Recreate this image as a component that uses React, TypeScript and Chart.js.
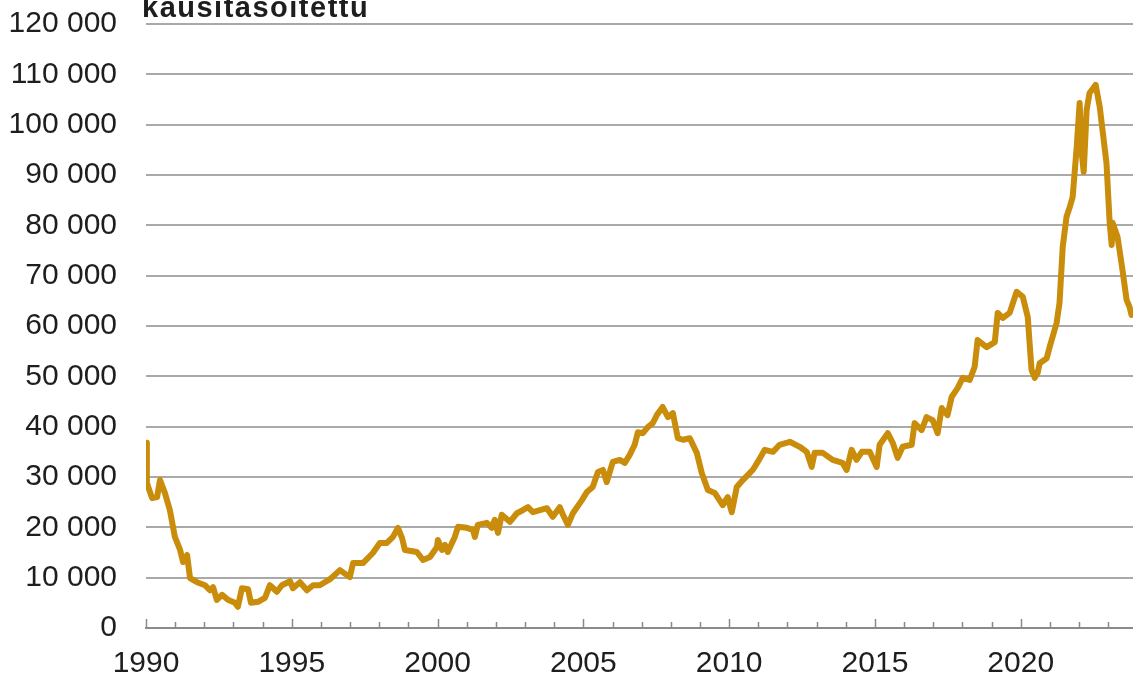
import React, { useEffect, useRef } from "react";
import { Chart, registerables } from "chart.js";

Chart.register(...registerables);

const TITLE = "kausitasoitettu";

const years = [
  1990.0, 1990.03, 1990.21, 1990.38, 1990.48, 1990.65, 1990.82, 1990.99, 1991.17, 1991.27,
  1991.41, 1991.51, 1991.75, 1992.02, 1992.19, 1992.3, 1992.43, 1992.61, 1992.81, 1993.05,
  1993.15, 1993.29, 1993.5, 1993.6, 1993.84, 1994.08, 1994.25, 1994.49, 1994.66, 1994.94,
  1995.04, 1995.28, 1995.52, 1995.73, 1995.96, 1996.31, 1996.65, 1996.99, 1997.1, 1997.44,
  1997.78, 1998.02, 1998.26, 1998.47, 1998.64, 1998.78, 1998.88, 1999.29, 1999.5, 1999.74,
  1999.98, 2000.01, 2000.15, 2000.25, 2000.35, 2000.59, 2000.7, 2001.0, 2001.21, 2001.28,
  2001.38, 2001.69, 2001.86, 2001.96, 2002.07, 2002.2, 2002.48, 2002.72, 2002.92, 2003.1,
  2003.27, 2003.75, 2003.95, 2004.19, 2004.3, 2004.47, 2004.64, 2004.95, 2005.12, 2005.32,
  2005.5, 2005.67, 2005.8, 2006.01, 2006.25, 2006.42, 2006.59, 2006.76, 2006.87, 2007.04,
  2007.21, 2007.38, 2007.52, 2007.72, 2007.9, 2008.07, 2008.24, 2008.41, 2008.65, 2008.89,
  2009.06, 2009.27, 2009.51, 2009.78, 2009.95, 2010.09, 2010.26, 2010.47, 2010.81, 2010.98,
  2011.22, 2011.5, 2011.73, 2012.08, 2012.42, 2012.66, 2012.83, 2012.93, 2013.21, 2013.55,
  2013.89, 2014.03, 2014.2, 2014.37, 2014.55, 2014.82, 2015.06, 2015.16, 2015.44, 2015.61,
  2015.78, 2015.95, 2016.26, 2016.36, 2016.6, 2016.77, 2016.98, 2017.15, 2017.29, 2017.49,
  2017.63, 2017.84, 2018.01, 2018.25, 2018.42, 2018.52, 2018.83, 2019.11, 2019.21, 2019.38,
  2019.62, 2019.86, 2020.07, 2020.24, 2020.37, 2020.48, 2020.58, 2020.65, 2020.89, 2020.99,
  2021.23, 2021.33, 2021.44, 2021.57, 2021.68, 2021.78, 2021.92, 2022.02, 2022.09, 2022.16,
  2022.26, 2022.36, 2022.57, 2022.71, 2022.94, 2023.05, 2023.12, 2023.15, 2023.32, 2023.49,
  2023.63, 2023.73, 2023.8,
];

const values = [
  36800, 28800, 25800, 26000, 29400, 26800, 23400, 18100, 15500, 13100,
  14500, 9900, 9100, 8500, 7500, 8100, 5600, 6600, 5600, 5000,
  4200, 7900, 7700, 5000, 5200, 6000, 8500, 7200, 8500, 9300,
  7900, 9100, 7500, 8500, 8500, 9700, 11500, 10100, 12900, 12900,
  14900, 16900, 16900, 18100, 19900, 17900, 15500, 15100, 13500, 14100,
  16100, 17500, 15500, 16500, 15100, 18100, 20100, 19900, 19500, 18100,
  20500, 20900, 19900, 21500, 18900, 22500, 21100, 22800, 23400, 24000,
  23000, 23800, 22100, 24000, 22500, 20500, 22800, 25400, 27000, 28000,
  31000, 31400, 29000, 33000, 33400, 32800, 34400, 36400, 38900, 38700,
  39900, 40700, 42300, 43900, 41900, 42700, 37700, 37400, 37700, 34800,
  30800, 27400, 26800, 24400, 26000, 23000, 28000, 29400, 31400, 33000,
  35400, 35000, 36400, 37000, 36000, 35000, 32000, 34800, 34800, 33400,
  32800, 31400, 35400, 33400, 35000, 35000, 32000, 36400, 38700, 36800,
  33800, 36000, 36400, 40700, 39300, 41900, 41300, 38700, 43700, 42300,
  45900, 47700, 49700, 49300, 51900, 57200, 55800, 56800, 62600, 61600,
  62600, 66800, 65800, 61800, 51300, 49700, 50700, 52600, 53600, 55800,
  60600, 64600, 75700, 81700, 83600, 85600, 95600, 104300, 94400, 90600,
  102900, 106300, 107900, 103500, 92400, 80500, 76100, 80500, 77700, 71100,
  65200, 63800, 62200,
];

const X_MIN = 1990;
const X_MAX = 2023.85;
const Y_MIN = 0;
const Y_MAX = 120000;
const Y_STEP = 10000;
const LABEL_EVERY = 5;

const FONT = "'Liberation Sans', Arial, sans-serif";
const TEXT_COLOR = "#1e1e1e";

const fmt = (v: number) => String(v).replace(/\B(?=(\d{3})+(?!\d))/g, " ");

export default function App() {
  const ref = useRef<HTMLCanvasElement | null>(null);

  useEffect(() => {
    if (!ref.current) return;

    const extras = {
      id: "extras",
      afterDraw(chart: any) {
        const { ctx, chartArea, scales } = chart;
        const xs = scales.x;
        ctx.save();
        ctx.strokeStyle = "#8a8a8a";
        ctx.lineWidth = 1.5;
        ctx.beginPath();
        xs.ticks.forEach((t: any) => {
          const v = t.value;
          if (Math.abs(v - Math.round(v)) > 1e-6) return;
          const px = Math.round(xs.getPixelForValue(v)) + 0.5;
          const len = v % LABEL_EVERY === 0 ? 9 : 6;
          ctx.moveTo(px, chartArea.bottom);
          ctx.lineTo(px, chartArea.bottom - len);
        });
        ctx.stroke();
        // title
        ctx.fillStyle = TEXT_COLOR;
        ctx.font = `bold 29px ${FONT}`;
        (ctx as any).letterSpacing = "1.5px";
        ctx.textAlign = "left";
        ctx.textBaseline = "alphabetic";
        ctx.fillText(TITLE, 142, 17);
        ctx.restore();
      },
    };

    const chart = new Chart(ref.current, {
      type: "line",
      data: {
        datasets: [
          {
            data: years.map((x, i) => ({ x, y: values[i] })),
            borderColor: "#C98D0B",
            borderWidth: 6,
            pointRadius: 0,
            tension: 0,
            borderJoinStyle: "round",
            borderCapStyle: "round",
            fill: false,
          },
        ],
      },
      options: {
        animation: false,
        responsive: false,
        devicePixelRatio: 1,
        layout: { padding: { top: 24, right: 0, bottom: 0, left: 0 } },
        plugins: {
          legend: { display: false },
          tooltip: { enabled: false },
          title: { display: false },
        },
        scales: {
          x: {
            type: "linear",
            min: X_MIN,
            max: X_MAX,
            afterFit(scale: any) {
              scale.height = 51;
              scale.paddingLeft = 0;
              scale.paddingRight = 0;
            },
            border: { display: true, color: "#8a8a8a", width: 2 },
            grid: { display: false, drawTicks: false },
            ticks: {
              stepSize: 1,
              autoSkip: false,
              includeBounds: false,
              maxRotation: 0,
              padding: 18,
              color: TEXT_COLOR,
              font: { family: FONT, size: 30 },
              callback: (v: any) => (Number(v) % LABEL_EVERY === 0 ? String(v) : ""),
            },
          },
          y: {
            min: Y_MIN,
            max: Y_MAX,
            afterFit(scale: any) {
              scale.width = 146;
              scale.paddingTop = 0;
              scale.paddingBottom = 0;
            },
            border: { display: false },
            grid: { color: "#a9a9a9", lineWidth: 2, drawTicks: false },
            ticks: {
              stepSize: Y_STEP,
              padding: 29,
              color: TEXT_COLOR,
              font: { family: FONT, size: 30 },
              callback: (v: any) => fmt(Number(v)),
            },
          },
        },
      },
      plugins: [extras],
    } as any);

    return () => chart.destroy();
  }, []);

  return (
    <div style={{ position: "absolute", left: 0, top: 0, width: 1133, height: 679, background: "#fff" }}>
      <canvas ref={ref} width={1133} height={679} style={{ display: "block" }} />
    </div>
  );
}
